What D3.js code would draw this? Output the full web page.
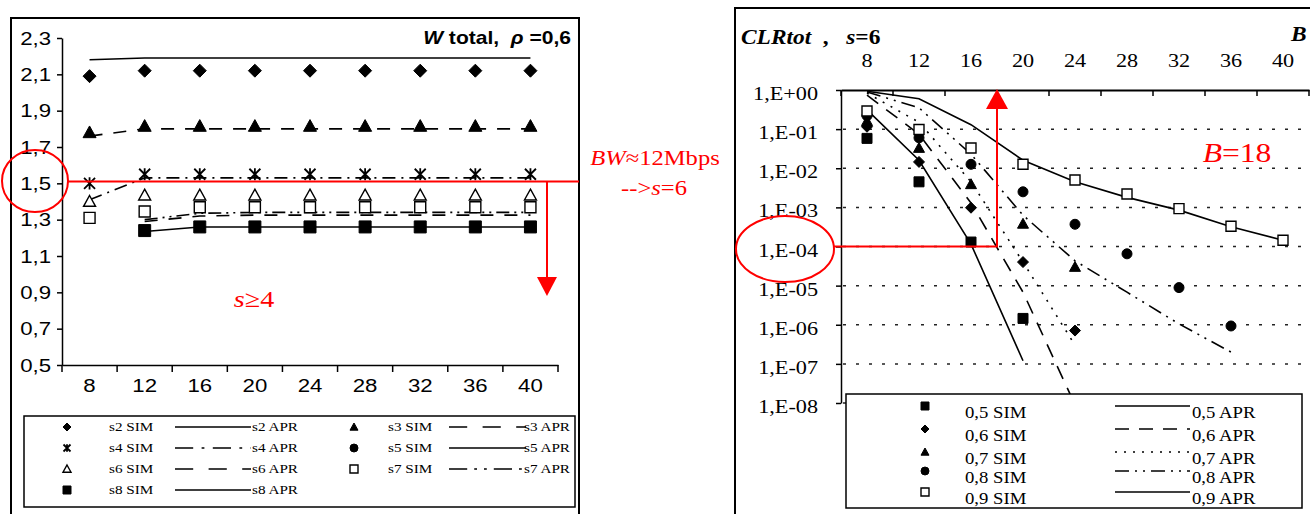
<!DOCTYPE html>
<html>
<head>
<meta charset="utf-8">
<script src="https://cdn.jsdelivr.net/npm/d3@7"></script>
<style>
  body { margin: 0; background: #fff; }
  svg { display: block; }
</style>
</head>
<body>
<div id="chart"></div>
<script>
// ---- data ----
const blocks = ['8', '12', '16', '20', '24', '28', '32', '36', '40']

// left panel: W total, rho = 0,6
const s2Sim = [2.09, 2.12, 2.12, 2.12, 2.12, 2.12, 2.12, 2.12, 2.12]
const s2Apr = [2.18, 2.19, 2.19, 2.19, 2.19, 2.19, 2.19, 2.19, 2.19]
const s3Sim = [1.78, 1.815, 1.815, 1.815, 1.815, 1.815, 1.815, 1.815, 1.815]
const s3Apr = [1.76, 1.80, 1.80, 1.80, 1.80, 1.80, 1.80, 1.80, 1.80]
const s4Sim = [1.50, 1.55, 1.55, 1.55, 1.55, 1.55, 1.55, 1.55, 1.55]
const s4Apr = [1.41, 1.53, 1.53, 1.53, 1.53, 1.53, 1.53, 1.53, 1.53]
const s5Sim = [null, null, null, null, null, null, null, null, null]
const s5Apr = [null, null, null, null, null, null, null, null, null]
const s6Sim = [1.40, 1.435, 1.435, 1.435, 1.435, 1.435, 1.435, 1.435, 1.435]
const s6Apr = [null, 1.29, 1.32, 1.325, 1.325, 1.325, 1.325, 1.325, 1.325]
const s7Sim = [1.31, 1.345, 1.368, 1.368, 1.368, 1.368, 1.368, 1.368, 1.368]
const s7Apr = [null, 1.30, 1.335, 1.34, 1.34, 1.34, 1.34, 1.34, 1.34]
const s8Sim = [null, 1.24, 1.26, 1.26, 1.26, 1.26, 1.26, 1.26, 1.26]
const s8Apr = [null, 1.235, 1.26, 1.26, 1.26, 1.26, 1.26, 1.26, 1.26]
const leftTicks = [0.5, 0.7, 0.9, 1.1, 1.3, 1.5, 1.7, 1.9, 2.1, 2.3]

// right panel: CLRtot, s = 6
const clr05Sim = [5.8e-2, 4.5e-3, 1.3e-4, 1.45e-6]
const clr05Apr = [3.1e-1, 1.6e-2, 1.15e-4, 1.2e-7]
const clr06Sim = [1.15e-1, 1.45e-2, 9.8e-4, 4.0e-5, 7.1e-7]
const clr06Apr = [7.4e-1, 7.4e-2, 1.3e-3, 6.8e-6, 9e-9]
const clr07Sim = [1.6e-1, 3.3e-2, 3.9e-3, 3.8e-4, 3.0e-5]
const clr07Apr = [8.3e-1, 1.5e-1, 4.5e-3, 4.0e-5, 3.0e-7]
const clr08Sim = [2.2e-1, 6.0e-2, 1.26e-2, 2.5e-3, 3.7e-4, 6.5e-5, 8.9e-6, 9.3e-7]
const clr08Apr = [8.9e-1, 3.5e-1, 2.3e-2, 6.3e-4, 4.3e-5, 6.8e-6, 1.05e-6, 2.0e-7]
const clr09Sim = [2.9e-1, 9.8e-2, 3.3e-2, 1.26e-2, 5.0e-3, 2.2e-3, 9.3e-4, 3.3e-4, 1.45e-4]
const clr09Apr = [9.3e-1, 6.0e-1, 1.3e-1, 1.6e-2, 4.5e-3, 1.8e-3, 8.5e-4, 3.2e-4, 1.45e-4]
const rightTicks = [1, 1e-1, 1e-2, 1e-3, 1e-4, 1e-5, 1e-6, 1e-7, 1e-8]

// annotations
const bwLevel = 1.51     // W total at BW ~ 12 Mbps
const arrowEnd = 0.88
const clrTarget = 1e-4
const bTarget = 18

// ---- style ----
const SANS = 'Liberation Sans, Arial, sans-serif'
const SERIF = 'Liberation Serif, Times New Roman, serif'
const RED = '#ff0000'
const SX = 1.17   // scan is stretched sideways, widen the text to match

const svg = d3.select('#chart').append('svg')
  .attr('width', 1310).attr('height', 514)

function label (g, x, y, parts, opt = {}) {
  const t = g.append('text')
    .attr('transform', `translate(${x},${y}) scale(${SX},1)`)
    .attr('font-family', opt.family || SERIF)
    .attr('font-size', opt.size || 16)
    .attr('text-anchor', opt.anchor || 'start')
    .attr('fill', opt.color || '#000')
  if (typeof parts === 'string') parts = [[parts, '']]
  parts.forEach(([s, st]) => {
    const sp = t.append('tspan').text(s)
    if (st.includes('i')) sp.attr('font-style', 'italic')
    if (st.includes('b')) sp.attr('font-weight', 'bold')
  })
  return t
}

// keep the anchor where the axis put it, but widen the glyphs
function stretchTicks (g) {
  g.selectAll('text').each(function () {
    const t = d3.select(this)
    t.attr('x', (+t.attr('x') || 0) / SX).attr('transform', `scale(${SX},1)`)
  })
}

function markerPath (type, r) {
  switch (type) {
    case 'diamond': return `M0,${-r}L${r},0L0,${r}L${-r},0Z`
    case 'triangle': return `M0,${-r}L${r},${r * 0.8}L${-r},${r * 0.8}Z`
    case 'square': return `M${-r},${-r}H${r}V${r}H${-r}Z`
    case 'circle': return `M${r},0A${r},${r} 0 1,1 ${-r},0A${r},${r} 0 1,1 ${r},0Z`
    case 'star': return `M${-r},${-r}L${r},${r}M${-r},${r}L${r},${-r}M0,${-r * 1.1}V${r * 1.1}`
  }
}

function drawMarker (g, x, y, m, r) {
  g.append('path')
    .attr('transform', `translate(${x},${y})`)
    .attr('d', markerPath(m.shape, r))
    .attr('fill', m.shape === 'star' ? 'none' : (m.open ? '#fff' : '#000'))
    .attr('stroke', '#000')
    .attr('stroke-width', m.open ? 1.4 : (m.shape === 'star' ? 1.8 : 1))
}

// ================= left panel =================
const left = svg.append('g')
left.append('rect')
  .attr('x', 11).attr('y', 18).attr('width', 568).attr('height', 530)
  .attr('fill', 'none').attr('stroke', '#000').attr('stroke-width', 2)

const xL = d3.scaleBand().domain(blocks).range([62, 558])
const yL = d3.scaleLinear().domain([0.5, 2.3]).range([365, 38])
const cxL = (b) => xL(b) + xL.bandwidth() / 2

const leftSeries = [
  {name: 's2', sim: s2Sim, apr: s2Apr, shape: 'diamond', r: 6.5, dash: null},
  {name: 's3', sim: s3Sim, apr: s3Apr, shape: 'triangle', r: 6.5, dash: '13,11'},
  {name: 's4', sim: s4Sim, apr: s4Apr, shape: 'star', r: 5.5, dash: '13,6,2,6'},
  {name: 's5', sim: s5Sim, apr: s5Apr, shape: 'circle', r: 5.5, dash: null},
  {name: 's6', sim: s6Sim, apr: s6Apr, shape: 'triangle', open: true, r: 6, dash: '13,11'},
  {name: 's7', sim: s7Sim, apr: s7Apr, shape: 'square', open: true, r: 5.5, dash: '13,5,2,5,2,5'},
  {name: 's8', sim: s8Sim, apr: s8Apr, shape: 'square', r: 6, dash: null}
]

// y axis
left.append('g')
  .attr('transform', 'translate(62,0)')
  .call(d3.axisLeft(yL).tickValues(leftTicks).tickSize(5).tickSizeOuter(0).tickPadding(6)
    .tickFormat(d => d3.format('.1f')(d).replace('.', ',')))
  .call(g => g.selectAll('text').attr('font-family', SANS).attr('font-size', 19).attr('fill', '#000'))
  .call(g => g.selectAll('line, path').attr('stroke', '#000').attr('stroke-width', 1.5))
  .call(stretchTicks)

// x axis: labels at the centre, ticks on the block borders
left.append('g')
  .attr('transform', 'translate(0,365)')
  .call(d3.axisBottom(xL).tickSize(0).tickSizeOuter(0).tickPadding(14))
  .call(g => g.selectAll('text').attr('font-family', SANS).attr('font-size', 19).attr('fill', '#000'))
  .call(g => g.select('.domain').attr('stroke', '#000').attr('stroke-width', 1.5))
  .call(stretchTicks)
left.append('g').selectAll('line')
  .data(blocks.map(b => xL(b)).concat([xL.range()[1]]))
  .join('line')
  .attr('x1', d => d).attr('x2', d => d)
  .attr('y1', 365).attr('y2', 372)
  .attr('stroke', '#000').attr('stroke-width', 1.5)

const lineL = d3.line()
  .defined(d => d[1] != null)
  .x(d => cxL(d[0]))
  .y(d => yL(d[1]))

left.append('g').selectAll('path')
  .data(leftSeries)
  .join('path')
  .attr('d', s => lineL(blocks.map((b, i) => [b, s.apr[i]])))
  .attr('fill', 'none')
  .attr('stroke', '#000')
  .attr('stroke-width', 1.6)
  .attr('stroke-dasharray', s => s.dash)

const markersL = left.append('g')
leftSeries.forEach(s => {
  blocks.forEach((b, i) => {
    if (s.sim[i] != null) drawMarker(markersL, cxL(b), yL(s.sim[i]), s, s.r)
  })
})

label(left, 571, 44, [['W', 'bi'], [' total,\u00a0 ', 'b'], ['\u03c1', 'bi'], [' =0,6', 'b']],
  {family: SANS, size: 18, anchor: 'end'})

// legend
const legL = left.append('g')
legL.append('rect')
  .attr('x', 24).attr('y', 416).attr('width', 551).attr('height', 91)
  .attr('fill', '#fff').attr('stroke', '#000').attr('stroke-width', 1.5)
const legCols = [
  {mx: 67, tx: 109, l0: 175, l1: 251, ax: 252},
  {mx: 354, tx: 388, l0: 449, l1: 526, ax: 570}
]
leftSeries.forEach((s, i) => {
  const c = legCols[i % 2]
  const y = 427 + Math.floor(i / 2) * 21
  drawMarker(legL, c.mx, y, s, s.shape === 'star' ? 3.5 : 4)
  label(legL, c.tx, y + 4, s.name + ' SIM', {size: 13})
  legL.append('line')
    .attr('x1', c.l0).attr('x2', c.l1).attr('y1', y).attr('y2', y)
    .attr('stroke', '#000').attr('stroke-width', 1.5)
    .attr('stroke-dasharray', s.dash ? s.dash.split(',').map(v => v * 1.4).join(',') : null)
  label(legL, c.ax, y + 4, s.name + ' APR', {size: 13, anchor: i % 2 ? 'end' : 'start'})
})

// red annotations
const annL = left.append('g').attr('stroke', RED).attr('fill', 'none').attr('stroke-width', 2)
annL.append('ellipse').attr('cx', 35).attr('cy', 181).attr('rx', 33).attr('ry', 31)
annL.append('line').attr('x1', 67).attr('x2', 579).attr('y1', yL(bwLevel)).attr('y2', yL(bwLevel))
const axArrow = xL('40') + xL.bandwidth() * 0.8
annL.append('line').attr('x1', axArrow).attr('x2', axArrow)
  .attr('y1', yL(bwLevel)).attr('y2', yL(arrowEnd) - 16)
annL.append('path')
  .attr('d', `M${axArrow - 10},${yL(arrowEnd) - 19}L${axArrow + 10},${yL(arrowEnd) - 19}L${axArrow},${yL(arrowEnd)}Z`)
  .attr('fill', RED).attr('stroke', 'none')
label(svg, 254, 307, [['s', 'i'], ['\u2265', ''], ['4', '']], {size: 24, color: RED, anchor: 'middle'})
label(svg, 655, 165, [['BW', 'i'], ['\u224812Mbps', '']], {size: 21, color: RED, anchor: 'middle'})
label(svg, 654, 195, [['-->', ''], ['s', 'i'], ['=6', '']], {size: 21, color: RED, anchor: 'middle'})

// ================= right panel =================
const right = svg.append('g')
right.append('rect')
  .attr('x', 735).attr('y', 8).attr('width', 620).attr('height', 540)
  .attr('fill', 'none').attr('stroke', '#000').attr('stroke-width', 2)

const xR = d3.scaleBand().domain(blocks).range([841, 1309])
const yR = d3.scaleLog().domain([1e-8, 1]).range([403, 90])
const cxR = (b) => xR(b) + xR.bandwidth() / 2

const rightSeries = [
  {name: '0,5', sim: clr05Sim, apr: clr05Apr, shape: 'square', r: 5, dash: null},
  {name: '0,6', sim: clr06Sim, apr: clr06Apr, shape: 'diamond', r: 5.5, dash: '14,10'},
  {name: '0,7', sim: clr07Sim, apr: clr07Apr, shape: 'triangle', r: 5.5, dash: '2,7'},
  {name: '0,8', sim: clr08Sim, apr: clr08Apr, shape: 'circle', r: 5, dash: '14,6,2,6,2,6'},
  {name: '0,9', sim: clr09Sim, apr: clr09Apr, shape: 'square', open: true, r: 5, dash: null}
]

// dotted grid
right.append('g').selectAll('line')
  .data(rightTicks.slice(1))
  .join('line')
  .attr('x1', 843).attr('x2', 1310)
  .attr('y1', d => yR(d)).attr('y2', d => yR(d))
  .attr('stroke', '#222').attr('stroke-width', 1.5)
  .attr('stroke-dasharray', '3,10')

right.append('g')
  .attr('transform', 'translate(841,0)')
  .call(d3.axisLeft(yR).tickValues(rightTicks).tickSize(5).tickSizeOuter(0).tickPadding(18)
    .tickFormat(d => {
      const e = Math.round(Math.log10(d))
      return '1,E' + (e < 0 ? '-' : '+') + String(Math.abs(e)).padStart(2, '0')
    }))
  .call(g => g.selectAll('text').attr('font-family', SERIF).attr('font-size', 19)
    .attr('fill', '#000').attr('dy', '0.5em'))
  .call(g => g.selectAll('line, path').attr('stroke', '#000').attr('stroke-width', 1.5))
  .call(stretchTicks)

right.append('g')
  .attr('transform', 'translate(0,90)')
  .call(d3.axisTop(xR).tickSize(0).tickSizeOuter(0).tickPadding(23))
  .call(g => g.selectAll('text').attr('font-family', SERIF).attr('font-size', 19).attr('fill', '#000'))
  .call(g => g.select('.domain').attr('stroke', '#000').attr('stroke-width', 2))
  .call(stretchTicks)
right.append('g').selectAll('line')
  .data(blocks.map(b => xR(b)).concat([xR.range()[1]]))
  .join('line')
  .attr('x1', d => d).attr('x2', d => d)
  .attr('y1', 90).attr('y2', 96)
  .attr('stroke', '#000').attr('stroke-width', 1.5)

const lineR = d3.line()
  .x(d => cxR(d[0]))
  .y(d => yR(d[1]))

right.append('g').selectAll('path')
  .data(rightSeries)
  .join('path')
  .attr('d', s => lineR(s.apr.map((v, i) => [blocks[i], v])))
  .attr('fill', 'none')
  .attr('stroke', '#000')
  .attr('stroke-width', 1.6)
  .attr('stroke-dasharray', s => s.dash)

const markersR = right.append('g')
rightSeries.forEach(s => {
  s.sim.forEach((v, i) => drawMarker(markersR, cxR(blocks[i]), yR(v), s, s.r))
})

label(right, 741, 44, [['CLRtot', 'bi'], ['\u00a0 ,\u00a0\u00a0 ', 'b'], ['s', 'bi'], ['=6', 'b']], {size: 20})
label(right, 1291, 41, [['B', 'bi']], {size: 20})

// legend (covers the tail of the 0,6 curve, as in the original)
const legR = right.append('g')
legR.append('rect')
  .attr('x', 846).attr('y', 394).attr('width', 456).attr('height', 114)
  .attr('fill', '#fff').attr('stroke', '#000').attr('stroke-width', 1.5)
const rowY = [406, 429, 452, 471, 492]
rightSeries.forEach((s, i) => {
  const y = rowY[i]
  drawMarker(legR, 925, y, s, 4)
  label(legR, 965, y + 12, s.name + ' SIM', {size: 16})
  legR.append('line')
    .attr('x1', 1115).attr('x2', 1190).attr('y1', y).attr('y2', y)
    .attr('stroke', '#000').attr('stroke-width', 1.5)
    .attr('stroke-dasharray', s.dash)
  label(legR, 1192, y + 12, s.name + ' APR', {size: 16})
})

// red annotations
const annR = right.append('g').attr('stroke', RED).attr('fill', 'none').attr('stroke-width', 2)
const bx = cxR('16') + (bTarget - 16) / 4 * xR.step()
annR.append('ellipse').attr('cx', 785).attr('cy', 249).attr('rx', 49).attr('ry', 33)
annR.append('polyline')
  .attr('points', `834,${yR(clrTarget)} ${bx},${yR(clrTarget)} ${bx},${yR(1) + 18}`)
annR.append('path')
  .attr('d', `M${bx - 11},${yR(1) + 19}L${bx + 11},${yR(1) + 19}L${bx},${yR(1) - 1}Z`)
  .attr('fill', RED).attr('stroke', 'none')
label(right, 1237, 162, [['B', 'i'], ['=18', '']], {size: 27, color: RED, anchor: 'middle'})
</script>
</body>
</html>
